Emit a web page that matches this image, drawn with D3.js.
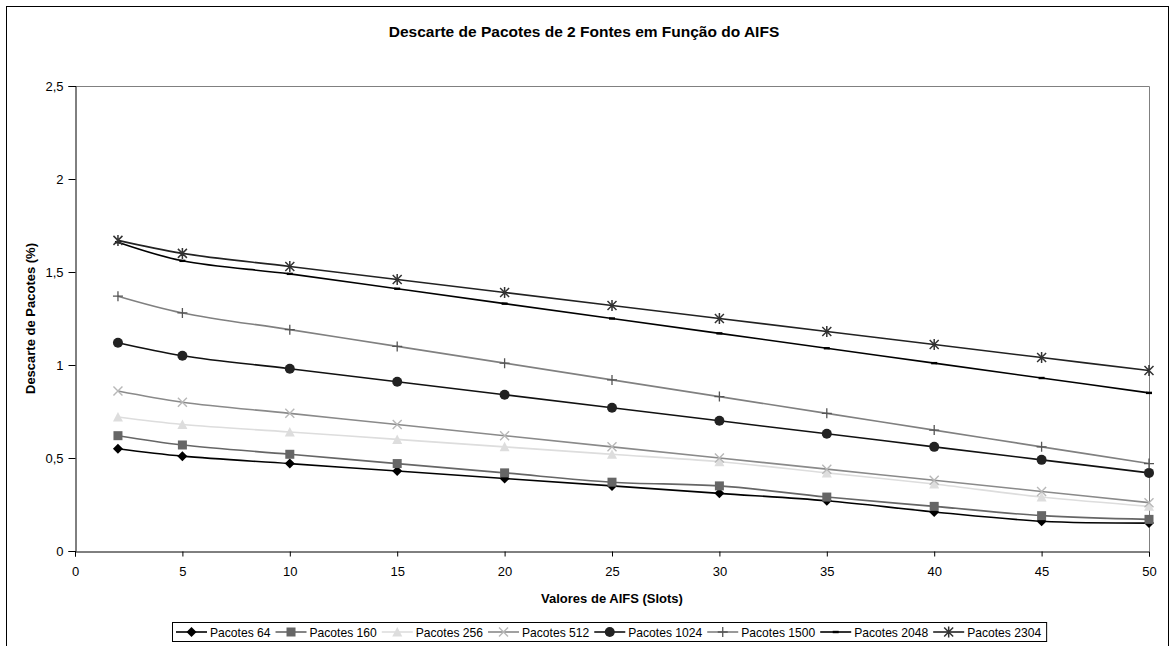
<!DOCTYPE html>
<html>
<head>
<meta charset="utf-8">
<script src="https://cdn.jsdelivr.net/npm/d3@7"></script>
<style>
  body { margin: 0; background: #fff; font-family: "Liberation Sans", Arial, sans-serif; }
  svg text { font-family: "Liberation Sans", Arial, sans-serif; }
</style>
</head>
<body>
<svg id="chart" width="1170" height="646"></svg>
<script>
var aifs = [2, 5, 10, 15, 20, 25, 30, 35, 40, 45, 50];

var pacotes64   = [0.55, 0.51, 0.47, 0.43, 0.39, 0.35, 0.31, 0.27, 0.21, 0.16, 0.15];
var pacotes160  = [0.62, 0.57, 0.52, 0.47, 0.42, 0.37, 0.35, 0.29, 0.24, 0.19, 0.17];
var pacotes256  = [0.72, 0.68, 0.64, 0.60, 0.56, 0.52, 0.48, 0.42, 0.36, 0.29, 0.24];
var pacotes512  = [0.86, 0.80, 0.74, 0.68, 0.62, 0.56, 0.50, 0.44, 0.38, 0.32, 0.26];
var pacotes1024 = [1.12, 1.05, 0.98, 0.91, 0.84, 0.77, 0.70, 0.63, 0.56, 0.49, 0.42];
var pacotes1500 = [1.37, 1.28, 1.19, 1.10, 1.01, 0.92, 0.83, 0.74, 0.65, 0.56, 0.47];
var pacotes2048 = [1.66, 1.56, 1.49, 1.41, 1.33, 1.25, 1.17, 1.09, 1.01, 0.93, 0.85];
var pacotes2304 = [1.67, 1.60, 1.53, 1.46, 1.39, 1.32, 1.25, 1.18, 1.11, 1.04, 0.97];

var xTicks = [0, 5, 10, 15, 20, 25, 30, 35, 40, 45, 50];
var yTicks = [0, 0.5, 1, 1.5, 2, 2.5];

var series = [
  { name: 'Pacotes 64',   values: pacotes64,   line: '#000',    mark: '#000',    shape: 'diamond' },
  { name: 'Pacotes 160',  values: pacotes160,  line: '#666',    mark: '#666',    shape: 'square' },
  { name: 'Pacotes 256',  values: pacotes256,  line: '#ddd',    mark: '#ddd',    shape: 'triangle' },
  { name: 'Pacotes 512',  values: pacotes512,  line: '#8a8a8a', mark: '#b8b8b8', shape: 'cross' },
  { name: 'Pacotes 1024', values: pacotes1024, line: '#111',    mark: '#222',    shape: 'circle' },
  { name: 'Pacotes 1500', values: pacotes1500, line: '#808080', mark: '#555',    shape: 'plus' },
  { name: 'Pacotes 2048', values: pacotes2048, line: '#000',    mark: '#000',    shape: 'dash' },
  { name: 'Pacotes 2304', values: pacotes2304, line: '#222',    mark: '#333',    shape: 'star' }
];

(function draw() {

  var svg = d3.select('#chart');
  var fmt = function (d) { return String(d).replace('.', ','); };

  // outer frame
  svg.append('rect')
      .attr('x', 6.5).attr('y', 6.5)
      .attr('width', 1162).attr('height', 660)
      .attr('fill', '#fff')
      .attr('stroke', '#000');

  var margin = { left: 75, right: 1149, top: 86, bottom: 551 };

  var x = d3.scaleLinear().domain([0, 50]).range([margin.left, margin.right]);
  var y = d3.scaleLinear().domain([0, 2.5]).range([margin.bottom, margin.top]);

  svg.append('text')
      .attr('x', 584).attr('y', 37)
      .attr('text-anchor', 'middle')
      .attr('font-size', 15.5).attr('font-weight', 'bold')
      .text('Descarte de Pacotes de 2 Fontes em Função do AIFS');

  // plot frame top/right
  svg.append('path')
      .attr('d', 'M' + margin.left + ',' + (margin.top + 0.5) + 'H' + (margin.right + 0.5) + 'V' + margin.bottom)
      .attr('fill', 'none')
      .attr('stroke', '#808080');

  var xAxis = svg.append('g')
      .attr('transform', 'translate(0,' + (margin.bottom + 0.5) + ')')
      .call(d3.axisBottom(x).tickValues(xTicks).tickFormat(fmt).tickSize(5).tickPadding(10));

  var yAxis = svg.append('g')
      .attr('transform', 'translate(' + (margin.left + 0.5) + ',0)')
      .call(d3.axisLeft(y).tickValues(yTicks).tickFormat(fmt).tickSize(7).tickPadding(5));

  [xAxis, yAxis].forEach(function (g) {
    g.selectAll('text').attr('font-size', 13).attr('fill', '#000').attr('font-family', '"Liberation Sans", Arial, sans-serif');
    g.select('.domain').attr('stroke', '#000');
    g.selectAll('line').attr('stroke', '#000');
  });

  svg.append('text')
      .attr('x', (margin.left + margin.right) / 2).attr('y', 603)
      .attr('text-anchor', 'middle')
      .attr('font-size', 13).attr('font-weight', 'bold')
      .text('Valores de AIFS (Slots)');

  svg.append('text')
      .attr('transform', 'translate(35,' + ((margin.top + margin.bottom) / 2) + ') rotate(-90)')
      .attr('text-anchor', 'middle')
      .attr('font-size', 13).attr('font-weight', 'bold')
      .text('Descarte de Pacotes (%)');

  function marker(g, shape, color) {
    if (shape === 'diamond') {
      g.append('path').attr('d', 'M0,-5L5,0L0,5L-5,0Z').attr('fill', color);
    } else if (shape === 'square') {
      g.append('rect').attr('x', -4.5).attr('y', -4.5).attr('width', 9).attr('height', 9).attr('fill', color);
    } else if (shape === 'triangle') {
      g.append('path').attr('d', 'M0,-5L5,4.5L-5,4.5Z').attr('fill', color);
    } else if (shape === 'cross') {
      g.append('path').attr('d', 'M-4.5,-4.5L4.5,4.5M-4.5,4.5L4.5,-4.5').attr('stroke', color).attr('stroke-width', 1.4);
    } else if (shape === 'circle') {
      g.append('circle').attr('r', 5).attr('fill', color);
    } else if (shape === 'plus') {
      g.append('path').attr('d', 'M-5,0H5M0,-5V5').attr('stroke', color).attr('stroke-width', 1.3);
    } else if (shape === 'dash') {
      g.append('rect').attr('x', -3).attr('y', -1.2).attr('width', 6).attr('height', 2.4).attr('fill', color);
    } else if (shape === 'star') {
      g.append('path').attr('d', 'M-4.5,-4.5L4.5,4.5M-4.5,4.5L4.5,-4.5M0,-5.5V5.5').attr('stroke', color).attr('stroke-width', 1.5);
    }
  }

  var line = d3.line()
      .x(function (d) { return x(d[0]); })
      .y(function (d) { return y(d[1]); })
      .curve(d3.curveCatmullRom.alpha(0.5));

  var plot = svg.append('g');

  series.forEach(function (s) {
    var pts = aifs.map(function (a, i) { return [a, s.values[i]]; });
    plot.append('path')
        .datum(pts)
        .attr('d', line)
        .attr('fill', 'none')
        .attr('stroke', s.line)
        .attr('stroke-width', 1.6);
    plot.append('g')
      .selectAll('g')
        .data(pts)
        .enter()
      .append('g')
        .attr('transform', function (d) { return 'translate(' + x(d[0]) + ',' + y(d[1]) + ')'; })
        .each(function () { marker(d3.select(this), s.shape, s.mark); });
  });

  // legend
  var legend = svg.append('g');
  var box = legend.append('rect')
      .attr('y', 622.5).attr('height', 19)
      .attr('fill', '#fff').attr('stroke', '#000');

  var cx = 176;
  series.forEach(function (s) {
    var item = legend.append('g');
    item.append('line')
        .attr('x1', cx).attr('x2', cx + 31)
        .attr('y1', 632).attr('y2', 632)
        .attr('stroke', s.line).attr('stroke-width', 1.6);
    var m = item.append('g').attr('transform', 'translate(' + (cx + 15.5) + ',632)');
    marker(m, s.shape, s.mark);
    var t = item.append('text')
        .attr('x', cx + 34).attr('y', 636.5)
        .attr('font-size', 12.1)
        .text(s.name);
    cx += 34 + t.node().getComputedTextLength() + 5;
  });
  box.attr('x', 172.5).attr('width', cx - 172);
})();
</script>
</body>
</html>
